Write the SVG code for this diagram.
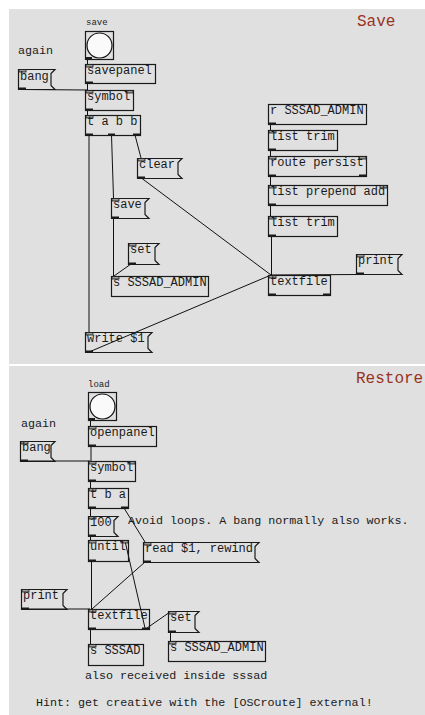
<svg xmlns="http://www.w3.org/2000/svg" width="425" height="715" viewBox="0 0 425 715">
<style>
.bg{fill:#e0e0e0}
.box{fill:none;stroke:#1a1a1a;stroke-width:1.2}
.t{font-family:"Liberation Mono","DejaVu Sans Mono",monospace;font-size:12px;fill:#1a1a1a}
.c{font-family:"Liberation Mono","DejaVu Sans Mono",monospace;font-size:11.7px;fill:#1a1a1a}
.lbl{font-family:"Liberation Mono","DejaVu Sans Mono",monospace;font-size:9px;fill:#1a1a1a}
.title{font-family:"Liberation Mono","DejaVu Sans Mono",monospace;font-size:16px;fill:#993322}
.in{fill:#9a9a9a;stroke:#1a1a1a;stroke-width:0.8}
.out{fill:#1a1a1a}
.wire{stroke:#111;stroke-width:1;fill:none}
.circ{fill:#fafafa;stroke:#111;stroke-width:1.2}
</style>
<rect x="0" y="0" width="425" height="715" fill="#ffffff"/>
<rect class="bg" x="9" y="9" width="416" height="355"/>
<rect class="bg" x="9" y="366" width="416" height="349"/>

<g id="connectors">
<!-- top -->
<line class="wire" x1="87.5" y1="59" x2="87.5" y2="64"/>
<line class="wire" x1="87.5" y1="83" x2="87.5" y2="90"/>
<line class="wire" x1="20" y1="89.5" x2="88" y2="90"/>
<line class="wire" x1="87.5" y1="110" x2="87.5" y2="115"/>
<line class="wire" x1="89" y1="135" x2="89" y2="332"/>
<line class="wire" x1="111.5" y1="135" x2="113.5" y2="198"/>
<line class="wire" x1="135" y1="135" x2="141" y2="158"/>
<line class="wire" x1="113.5" y1="218" x2="113.5" y2="276"/>
<line class="wire" x1="131" y1="264" x2="114" y2="276"/>
<line class="wire" x1="140" y1="177" x2="271" y2="275"/>
<line class="wire" x1="89" y1="352" x2="271" y2="275"/>
<line class="wire" x1="270.5" y1="124" x2="270.5" y2="130"/>
<line class="wire" x1="270.5" y1="150" x2="270.5" y2="156"/>
<line class="wire" x1="270.5" y1="176" x2="270.5" y2="185"/>
<line class="wire" x1="270.5" y1="205" x2="270.5" y2="216"/>
<line class="wire" x1="271.5" y1="236" x2="271.5" y2="275"/>
<line class="wire" x1="358" y1="274.5" x2="270" y2="275"/>
<!-- bottom -->
<line class="wire" x1="90.5" y1="420" x2="90.5" y2="426"/>
<line class="wire" x1="91" y1="446" x2="91" y2="461"/>
<line class="wire" x1="22" y1="461" x2="90" y2="461"/>
<line class="wire" x1="90.5" y1="481" x2="90.5" y2="488"/>
<line class="wire" x1="90.5" y1="508" x2="90.5" y2="516"/>
<line class="wire" x1="124" y1="508" x2="145" y2="542"/>
<line class="wire" x1="90.5" y1="536" x2="90.5" y2="540"/>
<line class="wire" x1="91.5" y1="561" x2="91.5" y2="609"/>
<line class="wire" x1="145" y1="562" x2="92" y2="609"/>
<line class="wire" x1="125" y1="541" x2="145" y2="628"/>
<line class="wire" x1="147" y1="628" x2="170" y2="612"/>
<line class="wire" x1="23" y1="609" x2="90" y2="609"/>
<line class="wire" x1="90.5" y1="629" x2="90.5" y2="644"/>
<line class="wire" x1="170.5" y1="632" x2="170.5" y2="641"/>
</g>

<!-- titles and comments -->
<text class="title" x="357" y="26">Save</text>
<text class="title" x="356" y="383">Restore</text>
<text class="lbl" x="86" y="25">save</text>
<text class="lbl" x="88" y="387">load</text>
<text class="c" x="18" y="54">again</text>
<text class="c" x="21" y="427">again</text>
<text class="c" x="128" y="524">Avoid loops. A bang normally also works.</text>
<text class="c" x="85" y="679">also received inside sssad</text>
<text class="c" x="36" y="706">Hint: get creative with the [OSCroute] external!</text>

<!-- TOP PANEL -->
<g id="bng-save">
<rect class="box" x="85.5" y="31.5" width="28" height="28" fill="#e0e0e0"/>
<circle class="circ" cx="99.5" cy="45.5" r="12.5"/>
<rect class="out" x="86" y="57" width="6" height="2"/>
</g>
<g id="msg-bang-top">
<path class="box" d="M18.5 69.5 H55 L51 73.5 V85.5 L55 89.5 H18.5 Z"/>
<rect class="in" x="19" y="69.5" width="7" height="2.5"/>
<rect class="out" x="19" y="87.5" width="7" height="2"/>
<text class="t" x="20" y="80">bang</text>
</g>
<g id="savepanel">
<rect class="box" x="85.5" y="64.5" width="70" height="19"/>
<rect class="in" x="86" y="64.5" width="7" height="2.5"/>
<rect class="out" x="86" y="81.5" width="7" height="2"/>
<text class="t" x="87" y="74">savepanel</text>
</g>
<g id="symbol-top">
<rect class="box" x="85.5" y="90.5" width="48" height="20"/>
<rect class="in" x="86" y="90.5" width="7" height="2.5"/>
<rect class="in" x="126" y="90.5" width="7" height="2.5"/>
<rect class="out" x="86" y="108.5" width="7" height="2"/>
<text class="t" x="87" y="100">symbol</text>
</g>
<g id="trigger-abb">
<rect class="box" x="85.5" y="115.5" width="55" height="20"/>
<rect class="in" x="86" y="115.5" width="7" height="2.5"/>
<rect class="out" x="86" y="133.5" width="7" height="2"/>
<rect class="out" x="108" y="133.5" width="7" height="2"/>
<rect class="out" x="133" y="133.5" width="7" height="2"/>
<text class="t" x="87" y="125">t a b b</text>
</g>
<g id="msg-clear">
<path class="box" d="M137.5 158.5 H182 L178 162.5 V174.5 L182 178.5 H137.5 Z"/>
<rect class="in" x="138" y="158.5" width="7" height="2.5"/>
<rect class="out" x="138" y="176.5" width="7" height="2"/>
<text class="t" x="139" y="168">clear</text>
</g>
<g id="msg-save">
<path class="box" d="M111.5 198.5 H149 L145 202.5 V214.5 L149 218.5 H111.5 Z"/>
<rect class="in" x="112" y="198.5" width="7" height="2.5"/>
<rect class="out" x="112" y="216.5" width="7" height="2"/>
<text class="t" x="113" y="208">save</text>
</g>
<g id="msg-set-top">
<path class="box" d="M128.5 243.5 H159 L155 247.5 V260.5 L159 264.5 H128.5 Z"/>
<rect class="in" x="129" y="243.5" width="7" height="2.5"/>
<rect class="out" x="129" y="262.5" width="7" height="2"/>
<text class="t" x="130" y="253">set</text>
</g>
<g id="send-admin-top">
<rect class="box" x="111.5" y="276.5" width="97" height="20"/>
<rect class="in" x="112" y="276.5" width="7" height="2.5"/>
<text class="t" x="113" y="286">s SSSAD_ADMIN</text>
</g>
<g id="msg-write">
<path class="box" d="M85.5 332.5 H152 L148 336.5 V348.5 L152 352.5 H85.5 Z"/>
<rect class="in" x="86" y="332.5" width="7" height="2.5"/>
<rect class="out" x="86" y="350.5" width="7" height="2"/>
<text class="t" x="87" y="342">write $1</text>
</g>
<g id="receive-admin">
<rect class="box" x="268.5" y="104.5" width="98" height="20"/>
<rect class="out" x="269" y="122.5" width="7" height="2"/>
<text class="t" x="270" y="114">r SSSAD_ADMIN</text>
</g>
<g id="list-trim-1">
<rect class="box" x="268.5" y="130.5" width="69" height="20"/>
<rect class="in" x="269" y="130.5" width="7" height="2.5"/>
<rect class="out" x="269" y="148.5" width="7" height="2"/>
<text class="t" x="270" y="140">list trim</text>
</g>
<g id="route-persist">
<rect class="box" x="268.5" y="156.5" width="98" height="20"/>
<rect class="in" x="269" y="156.5" width="7" height="2.5"/>
<rect class="in" x="359" y="156.5" width="7" height="2.5"/>
<rect class="out" x="269" y="174.5" width="7" height="2"/>
<rect class="out" x="359" y="174.5" width="7" height="2"/>
<text class="t" x="270" y="166">route persist</text>
</g>
<g id="list-prepend">
<rect class="box" x="268.5" y="185.5" width="119" height="20"/>
<rect class="in" x="269" y="185.5" width="7" height="2.5"/>
<rect class="in" x="380" y="185.5" width="7" height="2.5"/>
<rect class="out" x="269" y="203.5" width="7" height="2"/>
<text class="t" x="270" y="195">list prepend add</text>
</g>
<g id="list-trim-2">
<rect class="box" x="268.5" y="216.5" width="69" height="20"/>
<rect class="in" x="269" y="216.5" width="7" height="2.5"/>
<rect class="out" x="269" y="234.5" width="7" height="2"/>
<text class="t" x="270" y="226">list trim</text>
</g>
<g id="textfile-top">
<rect class="box" x="268.5" y="275.5" width="62" height="20"/>
<rect class="in" x="269" y="275.5" width="7" height="2.5"/>
<rect class="out" x="269" y="293.5" width="7" height="2"/>
<rect class="out" x="323" y="293.5" width="7" height="2"/>
<text class="t" x="270" y="285">textfile</text>
</g>
<g id="msg-print-top">
<path class="box" d="M356.5 254.5 H402 L398 258.5 V270.5 L402 274.5 H356.5 Z"/>
<rect class="in" x="357" y="254.5" width="7" height="2.5"/>
<rect class="out" x="357" y="272.5" width="7" height="2"/>
<text class="t" x="358" y="264">print</text>
</g>

<!-- BOTTOM PANEL -->
<g id="bng-load">
<rect class="box" x="88.5" y="392.5" width="28" height="28" fill="#e0e0e0"/>
<circle class="circ" cx="102.5" cy="406.5" r="12.5"/>
<rect class="out" x="89" y="418" width="6" height="2"/>
</g>
<g id="msg-bang-bottom">
<path class="box" d="M20.5 441.5 H55 L51 445.5 V457.5 L55 461.5 H20.5 Z"/>
<rect class="in" x="21" y="441.5" width="7" height="2.5"/>
<rect class="out" x="21" y="459.5" width="7" height="2"/>
<text class="t" x="22" y="451">bang</text>
</g>
<g id="openpanel">
<rect class="box" x="88.5" y="426.5" width="68" height="20"/>
<rect class="in" x="89" y="426.5" width="7" height="2.5"/>
<rect class="out" x="89" y="444.5" width="7" height="2"/>
<text class="t" x="90" y="436">openpanel</text>
</g>
<g id="symbol-bottom">
<rect class="box" x="88.5" y="461.5" width="47" height="20"/>
<rect class="in" x="89" y="461.5" width="7" height="2.5"/>
<rect class="in" x="128" y="461.5" width="7" height="2.5"/>
<rect class="out" x="89" y="479.5" width="7" height="2"/>
<text class="t" x="90" y="471">symbol</text>
</g>
<g id="trigger-ba">
<rect class="box" x="88.5" y="488.5" width="40" height="20"/>
<rect class="in" x="89" y="488.5" width="7" height="2.5"/>
<rect class="out" x="89" y="506.5" width="7" height="2"/>
<rect class="out" x="121" y="506.5" width="7" height="2"/>
<text class="t" x="90" y="498">t b a</text>
</g>
<g id="msg-100">
<path class="box" d="M88.5 516.5 H118 L114 520.5 V532.5 L118 536.5 H88.5 Z"/>
<rect class="in" x="89" y="516.5" width="7" height="2.5"/>
<rect class="out" x="89" y="534.5" width="7" height="2"/>
<text class="t" x="90" y="526">100</text>
</g>
<g id="until">
<rect class="box" x="88.5" y="540.5" width="40" height="21"/>
<rect class="in" x="89" y="540.5" width="7" height="2.5"/>
<rect class="in" x="121" y="540.5" width="7" height="2.5"/>
<rect class="out" x="89" y="559.5" width="7" height="2"/>
<text class="t" x="90" y="550">until</text>
</g>
<g id="msg-read">
<path class="box" d="M143.5 542.5 H259 L255 546.5 V558.5 L259 562.5 H143.5 Z"/>
<rect class="in" x="144" y="542.5" width="7" height="2.5"/>
<rect class="out" x="144" y="560.5" width="7" height="2"/>
<text class="t" x="145" y="552">read $1, rewind</text>
</g>
<g id="msg-print-bottom">
<path class="box" d="M21.5 589.5 H67 L63 593.5 V605.5 L67 609.5 H21.5 Z"/>
<rect class="in" x="22" y="589.5" width="7" height="2.5"/>
<rect class="out" x="22" y="607.5" width="7" height="2"/>
<text class="t" x="23" y="599">print</text>
</g>
<g id="textfile-bottom">
<rect class="box" x="88.5" y="609.5" width="61" height="20"/>
<rect class="in" x="89" y="609.5" width="7" height="2.5"/>
<rect class="out" x="89" y="627.5" width="7" height="2"/>
<rect class="out" x="142" y="627.5" width="7" height="2"/>
<text class="t" x="90" y="619">textfile</text>
</g>
<g id="msg-set-bottom">
<path class="box" d="M168.5 611.5 H199 L195 615.5 V628.5 L199 632.5 H168.5 Z"/>
<rect class="in" x="169" y="611.5" width="7" height="2.5"/>
<rect class="out" x="169" y="630.5" width="7" height="2"/>
<text class="t" x="170" y="621">set</text>
</g>
<g id="send-sssad">
<rect class="box" x="88.5" y="644.5" width="55" height="21"/>
<rect class="in" x="89" y="644.5" width="7" height="2.5"/>
<text class="t" x="90" y="654">s SSSAD</text>
</g>
<g id="send-admin-bottom">
<rect class="box" x="168.5" y="641.5" width="97" height="20"/>
<rect class="in" x="169" y="641.5" width="7" height="2.5"/>
<text class="t" x="170" y="651">s SSSAD_ADMIN</text>
</g>
</svg>
